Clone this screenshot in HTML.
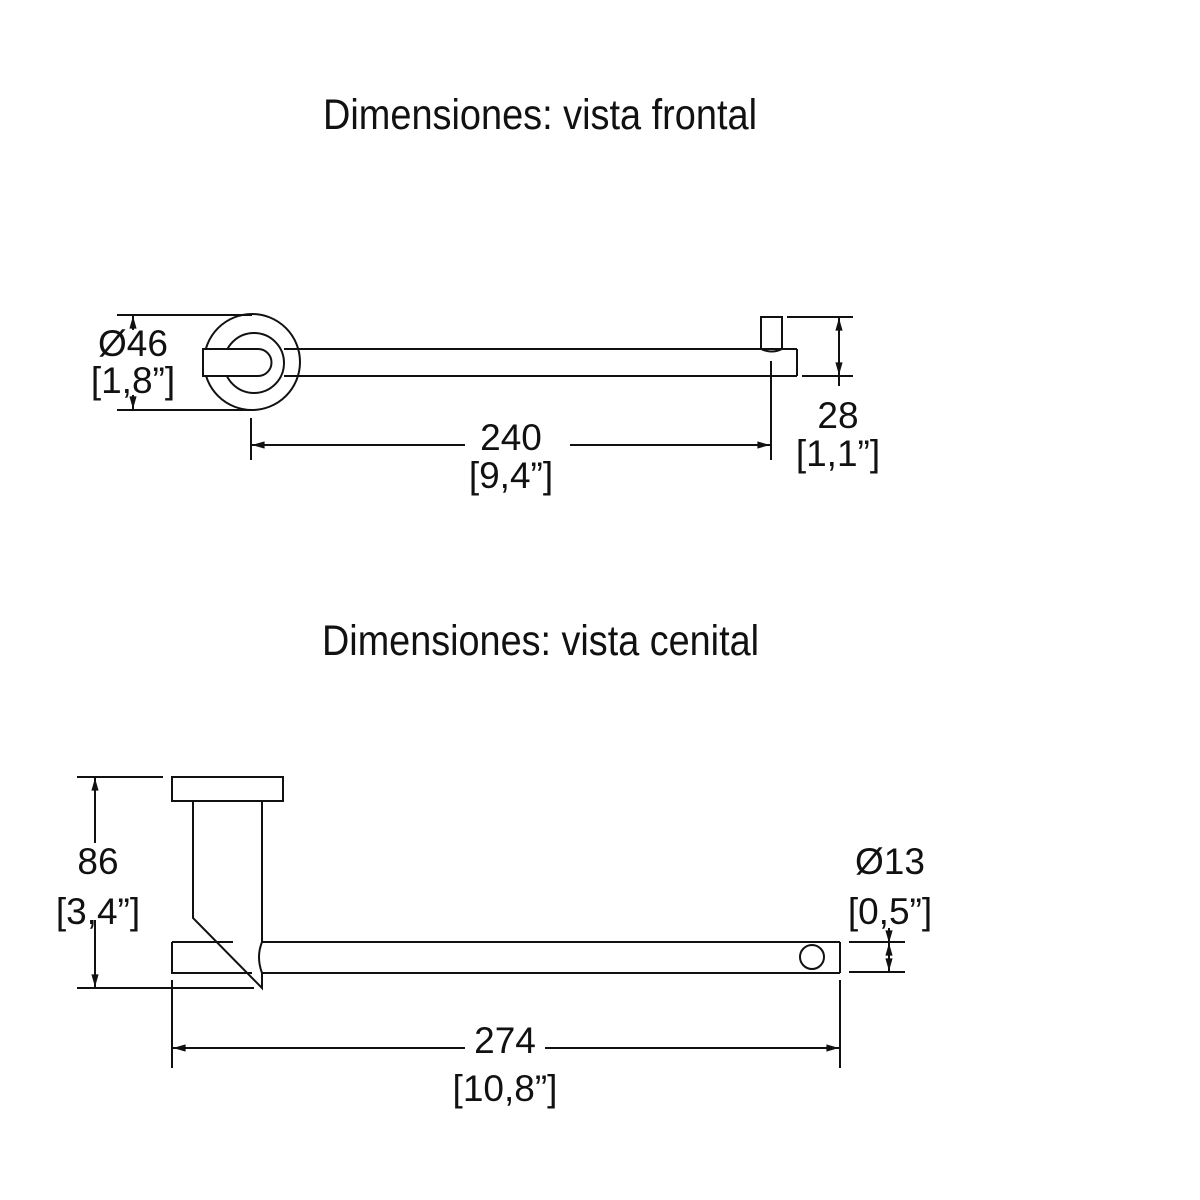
<!DOCTYPE html>
<html><head><meta charset="utf-8"><style>
html,body{margin:0;padding:0;background:#fff;}
svg{display:block;}
text{font-family:"Liberation Sans Narrow","Liberation Sans",sans-serif;fill:#111;}
.t{font-size:43px;}
.n{font-family:"Liberation Sans",sans-serif;font-size:37px;}
</style></head><body>
<svg width="1200" height="1200" viewBox="0 0 1200 1200" xmlns="http://www.w3.org/2000/svg">
<defs>
<marker id="a" viewBox="0 0 14 10" refX="14" refY="5" markerWidth="14" markerHeight="9" markerUnits="userSpaceOnUse" orient="auto-start-reverse"><path d="M0,1 L14,5 L0,9 z" fill="#111"/></marker>
</defs>
<text class="t" x="323" y="129" textLength="434" lengthAdjust="spacingAndGlyphs">Dimensiones: vista frontal</text>
<text class="t" x="322" y="655" textLength="437" lengthAdjust="spacingAndGlyphs">Dimensiones: vista cenital</text>

<g fill="none" stroke="#111" stroke-width="2">
<circle cx="252" cy="362" r="48" fill="#fff"/>
<circle cx="254" cy="363" r="30"/>
<path d="M203,349 L258,349 A13.5,13.5 0 0 1 258,376 L203,376 Z" fill="#fff"/>
<line x1="284" y1="349" x2="797" y2="349"/>
<line x1="284" y1="376" x2="797" y2="376"/>
<line x1="797" y1="349" x2="797" y2="376"/>
<path d="M761,349 L761,317 L782,317 L782,349 Q772,354 761,349"/>
<line x1="771" y1="361" x2="771" y2="460"/>
<line x1="117" y1="315" x2="252" y2="315"/>
<line x1="117" y1="410" x2="252" y2="410"/>
<line x1="133" y1="330" x2="133" y2="316" marker-end="url(#a)"/>
<line x1="133" y1="395" x2="133" y2="409" marker-end="url(#a)"/>
<line x1="251" y1="418" x2="251" y2="460"/>
<line x1="252" y1="445" x2="465" y2="445" marker-start="url(#a)"/>
<line x1="570" y1="445" x2="770" y2="445" marker-end="url(#a)"/>
<line x1="787" y1="317" x2="853" y2="317"/>
<line x1="802" y1="376" x2="853" y2="376"/>
<line x1="839" y1="318" x2="839" y2="375" marker-start="url(#a)" marker-end="url(#a)"/>
<line x1="839" y1="375" x2="839" y2="386"/>

<rect x="172" y="777" width="111" height="24" fill="#fff"/>
<path d="M193,801 L193,918 L262,988 L262,973 Q256,957 262,942 L262,801"/>
<path d="M172,942 L233,942 M172,942 L172,973 L252,973"/>
<line x1="262" y1="942" x2="840" y2="942"/>
<line x1="262" y1="973" x2="840" y2="973"/>
<line x1="840" y1="942" x2="840" y2="973"/>
<circle cx="812" cy="957" r="12"/>
<line x1="77" y1="777" x2="163" y2="777"/>
<line x1="77" y1="988" x2="254" y2="988"/>
<line x1="95" y1="843" x2="95" y2="778" marker-end="url(#a)"/>
<line x1="95" y1="920" x2="95" y2="987" marker-end="url(#a)"/>
<line x1="172" y1="980" x2="172" y2="1068"/>
<line x1="840" y1="980" x2="840" y2="1068"/>
<line x1="173" y1="1048" x2="465" y2="1048" marker-start="url(#a)"/>
<line x1="545" y1="1048" x2="839" y2="1048" marker-end="url(#a)"/>
<line x1="849" y1="942" x2="905" y2="942"/>
<line x1="849" y1="972" x2="905" y2="972"/>
<line x1="889" y1="928" x2="889" y2="943" marker-end="url(#a)"/>
<line x1="889" y1="943" x2="889" y2="971" marker-start="url(#a)" marker-end="url(#a)"/>
</g>

<g text-anchor="middle">
<text class="n" x="133" y="356">Ø46</text>
<text class="n" x="133" y="393">[1,8”]</text>
<text class="n" x="511" y="450">240</text>
<text class="n" x="511" y="488">[9,4”]</text>
<text class="n" x="838" y="428">28</text>
<text class="n" x="838" y="466">[1,1”]</text>
<text class="n" x="98" y="874">86</text>
<text class="n" x="98" y="924">[3,4”]</text>
<text class="n" x="505" y="1053">274</text>
<text class="n" x="505" y="1101">[10,8”]</text>
<text class="n" x="890" y="874">Ø13</text>
<text class="n" x="890" y="924">[0,5”]</text>
</g>
</svg>
</body></html>
